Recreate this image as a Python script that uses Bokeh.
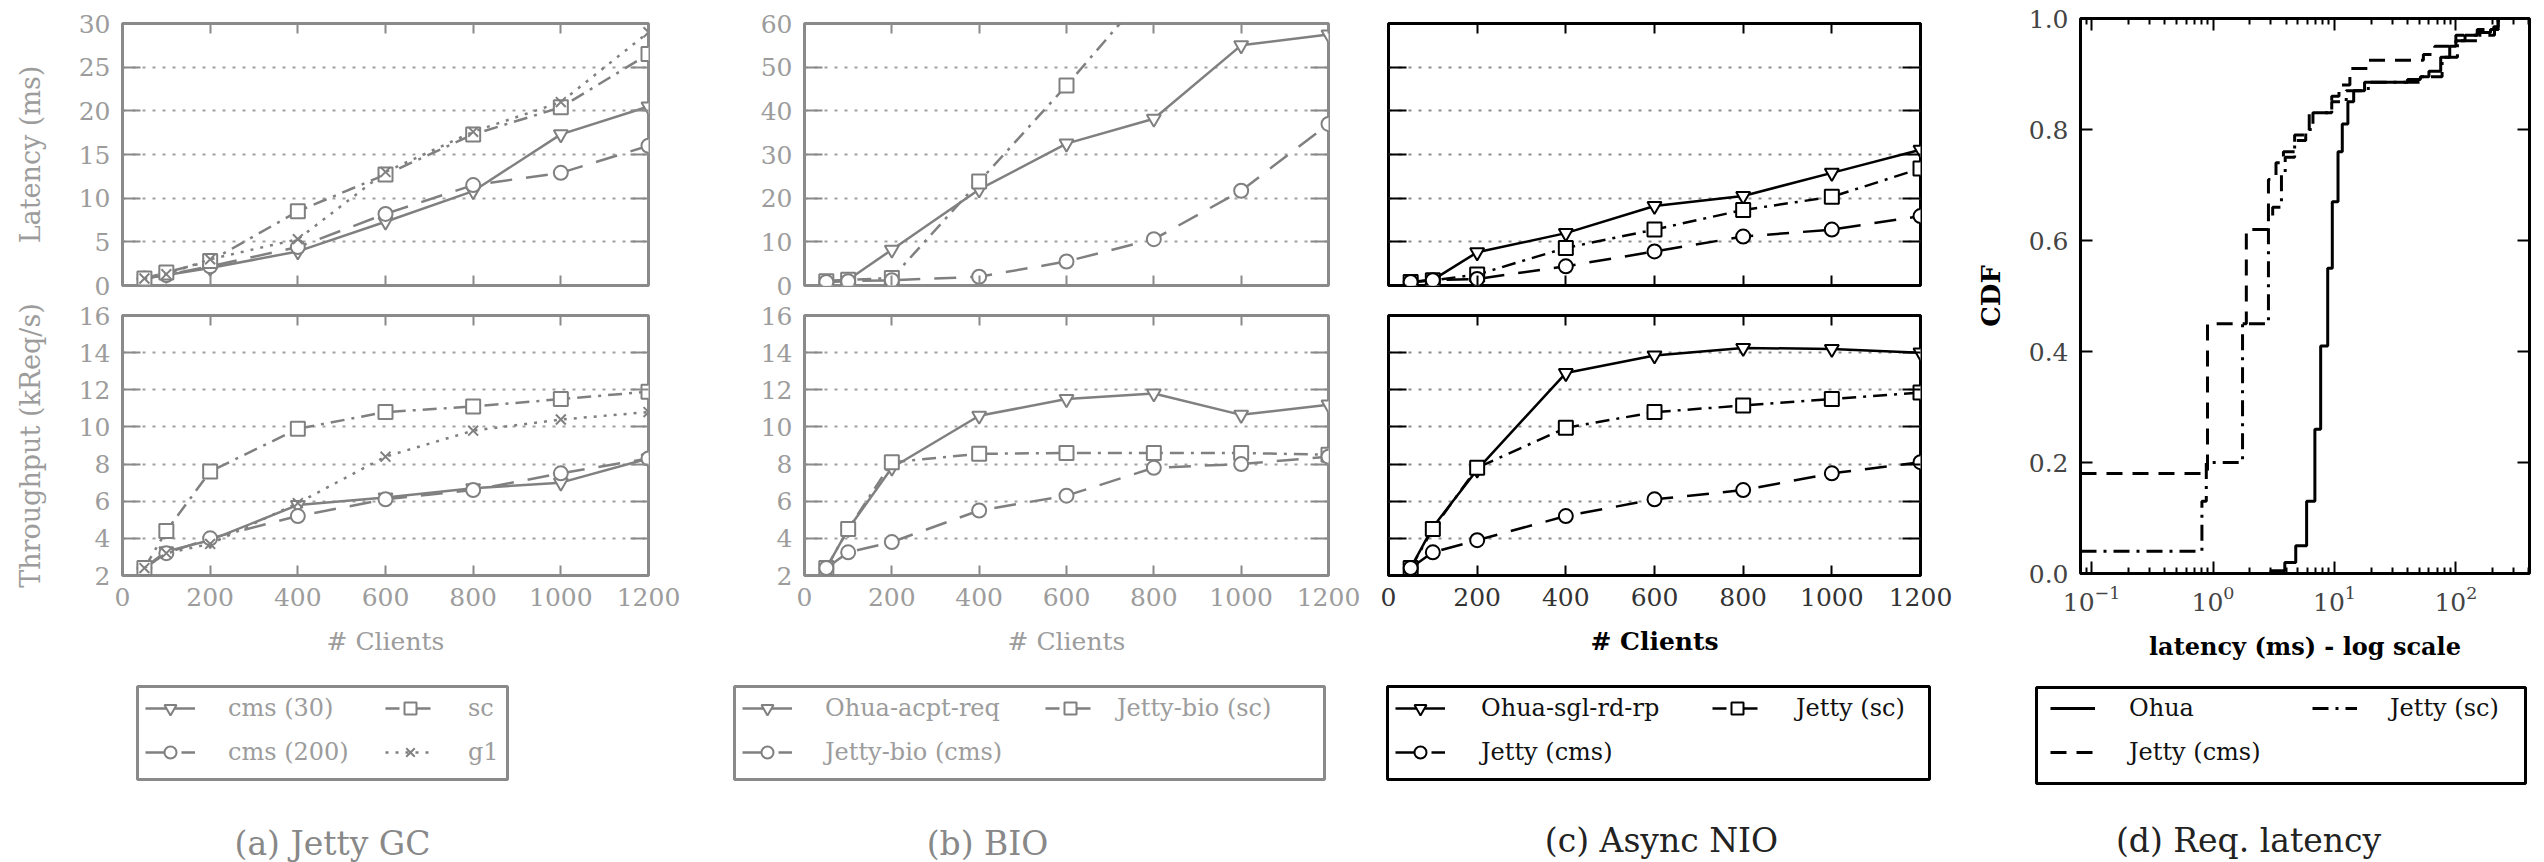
import numpy as np
from bokeh.plotting import figure
from bokeh.models import (LinearAxis, LogAxis, FixedTicker, Legend, LegendItem,
                          Label, Range1d, PrintfTickFormatter, BoxAnnotation)
from bokeh.layouts import row, column
from bokeh.embed import file_html
from bokeh.resources import INLINE

# ---------------- data ----------------
clients = [50, 100, 200, 400, 600, 800, 1000, 1200]
x_ticks = [0, 200, 400, 600, 800, 1000, 1200]
lat_ticks_a = [0, 5, 10, 15, 20, 25, 30]
lat_ticks_b = [0, 10, 20, 30, 40, 50, 60]
thr_ticks = [2, 4, 6, 8, 10, 12, 14, 16]

# (a) Jetty GC
a_lat_cms30 = [0.8, 1.2, 2.0, 3.9, 7.3, 10.8, 17.3, 20.5]
a_lat_cms200 = [0.8, 1.2, 2.2, 4.4, 8.2, 11.5, 12.9, 16.0]
a_lat_sc = [0.8, 1.5, 2.8, 8.5, 12.7, 17.3, 20.4, 26.5]
a_lat_g1 = [0.8, 1.3, 3.0, 5.3, 13.0, 17.6, 21.0, 29.0]
a_thr_cms30 = [2.4, 3.3, 3.9, 5.8, 6.2, 6.7, 7.0, 8.3]
a_thr_cms200 = [2.4, 3.2, 4.0, 5.2, 6.1, 6.6, 7.5, 8.3]
a_thr_sc = [2.4, 4.4, 7.6, 9.9, 10.8, 11.1, 11.5, 11.9]
a_thr_g1 = [2.4, 3.2, 3.7, 5.9, 8.4, 9.8, 10.4, 10.8]

# (b) BIO
b_lat_ohua = [1.0, 1.3, 8.2, 22.0, 32.5, 38.2, 55.0, 57.5]
b_clients_sc = [50, 100, 200, 400, 600, 800]
b_lat_sc = [1.0, 1.3, 1.7, 23.8, 45.8, 69.0]
b_lat_cms = [0.8, 1.0, 1.2, 2.0, 5.5, 10.6, 21.7, 37.0]
b_thr_ohua = [2.4, 4.5, 7.8, 10.6, 11.5, 11.8, 10.65, 11.2]
b_thr_sc = [2.4, 4.5, 8.1, 8.55, 8.6, 8.6, 8.6, 8.5]
b_thr_cms = [2.4, 3.25, 3.8, 5.5, 6.3, 7.8, 8.0, 8.4]

# (c) Async NIO
c_lat_ohua = [0.8, 1.3, 7.6, 12.0, 18.2, 20.5, 25.8, 31.1]
c_lat_sc = [0.8, 1.2, 2.5, 8.6, 12.8, 17.3, 20.3, 26.8]
c_lat_cms = [0.8, 1.2, 1.5, 4.4, 7.8, 11.2, 12.8, 15.9]
c_thr_ohua = [2.4, 4.6, 7.7, 12.9, 13.85, 14.25, 14.2, 14.0]
c_thr_sc = [2.4, 4.5, 7.8, 9.95, 10.8, 11.15, 11.5, 11.85]
c_thr_cms = [2.4, 3.25, 3.9, 5.2, 6.1, 6.6, 7.5, 8.1]

# (d) Req. latency CDF
d_ohua_lat = [0.081, 3.0, 3.9, 4.8, 5.9, 6.9, 7.7, 8.8, 9.6, 10.7, 11.6, 12.9, 14.4,
              17.7, 40, 51, 60, 75, 89, 100, 119, 150, 193, 223, 404]
d_ohua_cdf = [0.0, 0.005, 0.02, 0.05, 0.13, 0.26, 0.41, 0.55, 0.67, 0.76, 0.81, 0.85, 0.87,
              0.885, 0.89, 0.895, 0.905, 0.93, 0.95, 0.96, 0.97, 0.975, 0.98, 1.0, 1.0]
d_cms_lat = [0.081, 0.9, 1.88, 2.86, 3.3, 3.8, 4.7, 6.2, 9.5, 10.9, 13.4, 19, 54, 67,
             100, 150, 205, 223, 404]
d_cms_cdf = [0.18, 0.45, 0.62, 0.71, 0.74, 0.76, 0.79, 0.83, 0.86, 0.88, 0.91, 0.925,
             0.935, 0.95, 0.97, 0.98, 0.985, 1.0, 1.0]
d_sc_lat = [0.081, 0.81, 0.88, 1.75, 2.86, 3.1, 3.66, 3.93, 4.7, 5.8, 6.65, 9.5, 12.5,
            19, 51, 77, 103, 150, 208, 223, 404]
d_sc_cdf = [0.04, 0.13, 0.2, 0.45, 0.64, 0.66, 0.72, 0.75, 0.78, 0.80, 0.83, 0.85, 0.87,
            0.885, 0.895, 0.93, 0.96, 0.97, 0.98, 1.0, 1.0]
cdf_ticks = [0.0, 0.2, 0.4, 0.6, 0.8, 1.0]
log_major = [0.1, 1, 10, 100]
log_minor = [0.09, 0.2, 0.3, 0.4, 0.5, 0.6, 0.7, 0.8, 0.9, 2, 3, 4, 5, 6, 7, 8, 9,
             20, 30, 40, 50, 60, 70, 80, 90, 200, 300, 400]

# ---------------- style ----------------
FONT = "DejaVu Serif"
GREY_LINE = "#808080"
GREY_FRAME = "#8a8a8a"
GREY_TEXT = "#9c9c9c"
GREY_GRID = "#a0a0a0"
BLACK = "#000000"
DASHED = "22 14"
DASHDOT = "14 7 3 7"
DOTTED = "3 7"
D_DASHED = "16 10"
D_DASHDOT = "16 7 3 7"


def style_axis(ax, ticker, col, tick_in, show_labels, text_col, fs="25px", standoff=12):
    ax.ticker = ticker
    ax.axis_line_color = None
    ax.major_tick_line_color = col
    ax.major_tick_line_width = 2
    ax.major_tick_in = tick_in
    ax.major_tick_out = 0
    ax.minor_tick_line_color = col
    ax.minor_tick_line_width = 2
    ax.minor_tick_in = 6
    ax.minor_tick_out = 0
    if show_labels:
        ax.major_label_text_font = FONT
        ax.major_label_text_font_size = fs
        ax.major_label_text_color = text_col
        ax.major_label_standoff = standoff
    else:
        ax.major_label_text_font_size = "0px"
        ax.major_label_text_color = None
        ax.major_label_standoff = 0
        ax.major_label_overrides = {str(t): "" for t in ticker.ticks}


def set_axis_label(ax, text, col, fs, bold, standoff):
    ax.axis_label = text
    ax.axis_label_text_font = FONT
    ax.axis_label_text_font_size = fs
    ax.axis_label_text_font_style = "bold" if bold else "normal"
    ax.axis_label_text_color = col
    ax.axis_label_standoff = standoff


def make_panel(width, height, left, right, top, bottom, yr, yticks, dark,
               show_x, show_y):
    col = BLACK if dark else GREY_FRAME
    tcol = "#333333" if dark else GREY_TEXT
    p = figure(width=width, height=height, x_range=Range1d(0, 1200),
               y_range=Range1d(*yr), output_backend="svg", toolbar_location=None,
               min_border_left=left, min_border_right=right,
               min_border_top=top, min_border_bottom=bottom,
               background_fill_color="white", border_fill_color="white")
    p.outline_line_color = col
    p.outline_line_width = 3
    p.xgrid.visible = False
    p.ygrid.ticker = FixedTicker(ticks=yticks)
    p.ygrid.grid_line_color = "#8c8c8c" if dark else GREY_GRID
    p.ygrid.grid_line_dash = "3 7"
    p.ygrid.grid_line_width = 2
    style_axis(p.below[0], FixedTicker(ticks=x_ticks), col, 10, show_x, tcol)
    style_axis(p.left[0], FixedTicker(ticks=yticks), col, 18, show_y, tcol)
    top_ax = LinearAxis()
    style_axis(top_ax, FixedTicker(ticks=x_ticks), col, 10, False, tcol)
    right_ax = LinearAxis()
    style_axis(right_ax, FixedTicker(ticks=yticks), col, 18, False, tcol)
    p.add_layout(top_ax, "above")
    p.add_layout(right_ax, "right")
    return p


def series(p, x, y, color, dash, marker, size=14):
    p.line(x, y, line_color=color, line_width=2.5, line_dash=dash)
    p.scatter(x, y, marker=marker, size=size, line_color=color,
              fill_color="white", line_width=2)


# figure geometry: top plots (frame 23..285), bottom plots (frame 315..575)
TOP_H, TOP_T, TOP_B = 300, 23, 15
BOT_H, BOT_T, BOT_B = 370, 15, 95

# ---------------- (a) ----------------
pa1 = make_panel(700, TOP_H, 122, 52, TOP_T, TOP_B, (0, 30), lat_ticks_a, False, False, True)
set_axis_label(pa1.left[0], "Latency (ms)", GREY_TEXT, "27px", False, 30)
series(pa1, clients, a_lat_cms30, GREY_LINE, "solid", "inverted_triangle")
series(pa1, clients, a_lat_cms200, GREY_LINE, DASHED, "circle")
series(pa1, clients, a_lat_sc, GREY_LINE, DASHDOT, "square")
series(pa1, clients, a_lat_g1, GREY_LINE, DOTTED, "x")

pa2 = make_panel(700, BOT_H, 122, 52, BOT_T, BOT_B, (2, 16), thr_ticks, False, True, True)
set_axis_label(pa2.left[0], "Throughput (kReq/s)", GREY_TEXT, "27px", False, 30)
set_axis_label(pa2.below[0], "# Clients", GREY_TEXT, "25px", False, 18)
series(pa2, clients, a_thr_cms30, GREY_LINE, "solid", "inverted_triangle")
series(pa2, clients, a_thr_cms200, GREY_LINE, DASHED, "circle")
series(pa2, clients, a_thr_sc, GREY_LINE, DASHDOT, "square")
series(pa2, clients, a_thr_g1, GREY_LINE, DOTTED, "x")

# ---------------- (b) ----------------
pb1 = make_panel(660, TOP_H, 104, 32, TOP_T, TOP_B, (0, 60), lat_ticks_b, False, False, True)
series(pb1, clients, b_lat_ohua, GREY_LINE, "solid", "inverted_triangle")
series(pb1, b_clients_sc, b_lat_sc, GREY_LINE, DASHDOT, "square")
series(pb1, clients, b_lat_cms, GREY_LINE, DASHED, "circle")

pb2 = make_panel(660, BOT_H, 104, 32, BOT_T, BOT_B, (2, 16), thr_ticks, False, True, True)
set_axis_label(pb2.below[0], "# Clients", GREY_TEXT, "25px", False, 18)
series(pb2, clients, b_thr_ohua, GREY_LINE, "solid", "inverted_triangle")
series(pb2, clients, b_thr_sc, GREY_LINE, DASHDOT, "square")
series(pb2, clients, b_thr_cms, GREY_LINE, DASHED, "circle")

# ---------------- (c) ----------------
pc1 = make_panel(600, TOP_H, 28, 40, TOP_T, TOP_B, (0, 60), lat_ticks_b, True, False, False)
series(pc1, clients, c_lat_ohua, BLACK, "solid", "inverted_triangle")
series(pc1, clients, c_lat_sc, BLACK, DASHDOT, "square")
series(pc1, clients, c_lat_cms, BLACK, DASHED, "circle")

pc2 = make_panel(600, BOT_H, 28, 40, BOT_T, BOT_B, (2, 16), thr_ticks, True, True, False)
set_axis_label(pc2.below[0], "# Clients", BLACK, "25px", True, 18)
series(pc2, clients, c_thr_ohua, BLACK, "solid", "inverted_triangle")
series(pc2, clients, c_thr_sc, BLACK, DASHDOT, "square")
series(pc2, clients, c_thr_cms, BLACK, DASHED, "circle")

# ---------------- (d) ----------------
pd = figure(width=584, height=670, x_axis_type="log", x_range=Range1d(0.081, 404),
            y_range=Range1d(0, 1), output_backend="svg", toolbar_location=None,
            min_border_left=120, min_border_right=15, min_border_top=18,
            min_border_bottom=97, background_fill_color="white", border_fill_color="white")
pd.outline_line_color = BLACK
pd.outline_line_width = 3
pd.grid.visible = False
log_overrides = {"0.1": "10\u207b\u00b9", "1": "10\u2070", "10": "10\u00b9", "100": "10\u00b2"}
style_axis(pd.below[0], FixedTicker(ticks=log_major, minor_ticks=log_minor), BLACK, 12, True, "#444444")
pd.below[0].major_label_overrides = log_overrides
style_axis(pd.left[0], FixedTicker(ticks=cdf_ticks), BLACK, 12, True, "#444444")
pd.left[0].formatter = PrintfTickFormatter(format="%.1f")
set_axis_label(pd.below[0], "latency (ms) - log scale", BLACK, "24px", True, 18)
set_axis_label(pd.left[0], "CDF", BLACK, "26px", True, 20)
top_d = LogAxis()
style_axis(top_d, FixedTicker(ticks=log_major, minor_ticks=log_minor), BLACK, 12, False, BLACK)
right_d = LinearAxis()
style_axis(right_d, FixedTicker(ticks=cdf_ticks), BLACK, 12, False, BLACK)
pd.add_layout(top_d, "above")
pd.add_layout(right_d, "right")
pd.step(d_ohua_lat, d_ohua_cdf, mode="after", line_color=BLACK, line_width=3)
pd.step(d_cms_lat, d_cms_cdf, mode="after", line_color=BLACK, line_width=3, line_dash=D_DASHED)
pd.step(d_sc_lat, d_sc_cdf, mode="after", line_color=BLACK, line_width=3, line_dash=D_DASHDOT)

# ---------------- legend / caption strip ----------------
strip = figure(width=2544, height=192, x_range=Range1d(0, 2544), y_range=Range1d(0, 192),
               output_backend="svg", toolbar_location=None,
               x_axis_location=None, y_axis_location=None, min_border=0,
               background_fill_color="white", border_fill_color="white")
strip.grid.visible = False
strip.outline_line_color = None
NAN = np.array([np.nan])


def legend_column(entries, vx, vy, dark, standoff, gw=50):
    items = []
    for label, color, dash, marker, lw in entries:
        rs = [strip.line(NAN, NAN, line_color=color, line_width=lw, line_dash=dash)]
        if marker is not None:
            rs.append(strip.scatter(NAN, NAN, marker=marker, size=14, line_color=color,
                                    fill_color="white", line_width=2))
        items.append(LegendItem(label=label, renderers=rs))
    strip.add_layout(Legend(items=items, location=(vx, vy), orientation="vertical",
                            label_text_font=FONT, label_text_font_size="24px",
                            label_text_color="#111111" if dark else GREY_TEXT,
                            glyph_width=gw, glyph_height=30, label_height=30,
                            label_standoff=standoff, spacing=14, padding=0, margin=0,
                            border_line_color=None, background_fill_alpha=0))


def legend_box(left, right, bottom, top, dark):
    strip.add_layout(BoxAnnotation(left=left, right=right, bottom=bottom, top=top,
                                   fill_color=None, fill_alpha=0,
                                   line_color=BLACK if dark else GREY_FRAME,
                                   line_width=3, line_alpha=1))


def caption(text, x, y, dark):
    strip.add_layout(Label(x=x, y=y, text=text, text_font=FONT, text_font_size="33px",
                           text_color="#222222" if dark else "#888888",
                           text_align="center", text_baseline="middle"))


# (a)
legend_box(137, 507, 83, 176, False)
legend_column([("cms (30)", GREY_LINE, "solid", "inverted_triangle", 2.5),
               ("cms (200)", GREY_LINE, DASHED, "circle", 2.5)], 145, 95, False, 33)
legend_column([("sc", GREY_LINE, DASHDOT, "square", 2.5),
               ("g1", GREY_LINE, DOTTED, "x", 2.5)], 385, 95, False, 33)
caption("(a) Jetty GC", 332, 19, False)
# (b)
legend_box(734, 1324, 83, 176, False)
legend_column([("Ohua-acpt-req", GREY_LINE, "solid", "inverted_triangle", 2.5),
               ("Jetty-bio (cms)", GREY_LINE, DASHED, "circle", 2.5)], 742, 95, False, 33)
legend_column([("Jetty-bio (sc)", GREY_LINE, DASHDOT, "square", 2.5)], 1045, 139, False, 22)
caption("(b) BIO", 987, 19, False)
# (c)
legend_box(1387, 1929, 83, 176, True)
legend_column([("Ohua-sgl-rd-rp", BLACK, "solid", "inverted_triangle", 2.5),
               ("Jetty (cms)", BLACK, DASHED, "circle", 2.5)], 1395, 95, True, 36)
legend_column([("Jetty (sc)", BLACK, DASHDOT, "square", 2.5)], 1712, 139, True, 34)
caption("(c) Async NIO", 1661, 22, True)
# (d)
legend_box(2036, 2525, 79, 175, True)
legend_column([("Ohua", BLACK, "solid", None, 3),
               ("Jetty (cms)", BLACK, D_DASHED, None, 3)], 2050, 95, True, 34, gw=45)
legend_column([("Jetty (sc)", BLACK, D_DASHDOT, None, 3)], 2312, 139, True, 33, gw=45)
caption("(d) Req. latency", 2248, 22, True)

top = row(column(pa1, pa2), column(pb1, pb2), column(pc1, pc2), pd)
layout = column(top, strip)
open("out.html", "w").write(file_html(layout, INLINE))
